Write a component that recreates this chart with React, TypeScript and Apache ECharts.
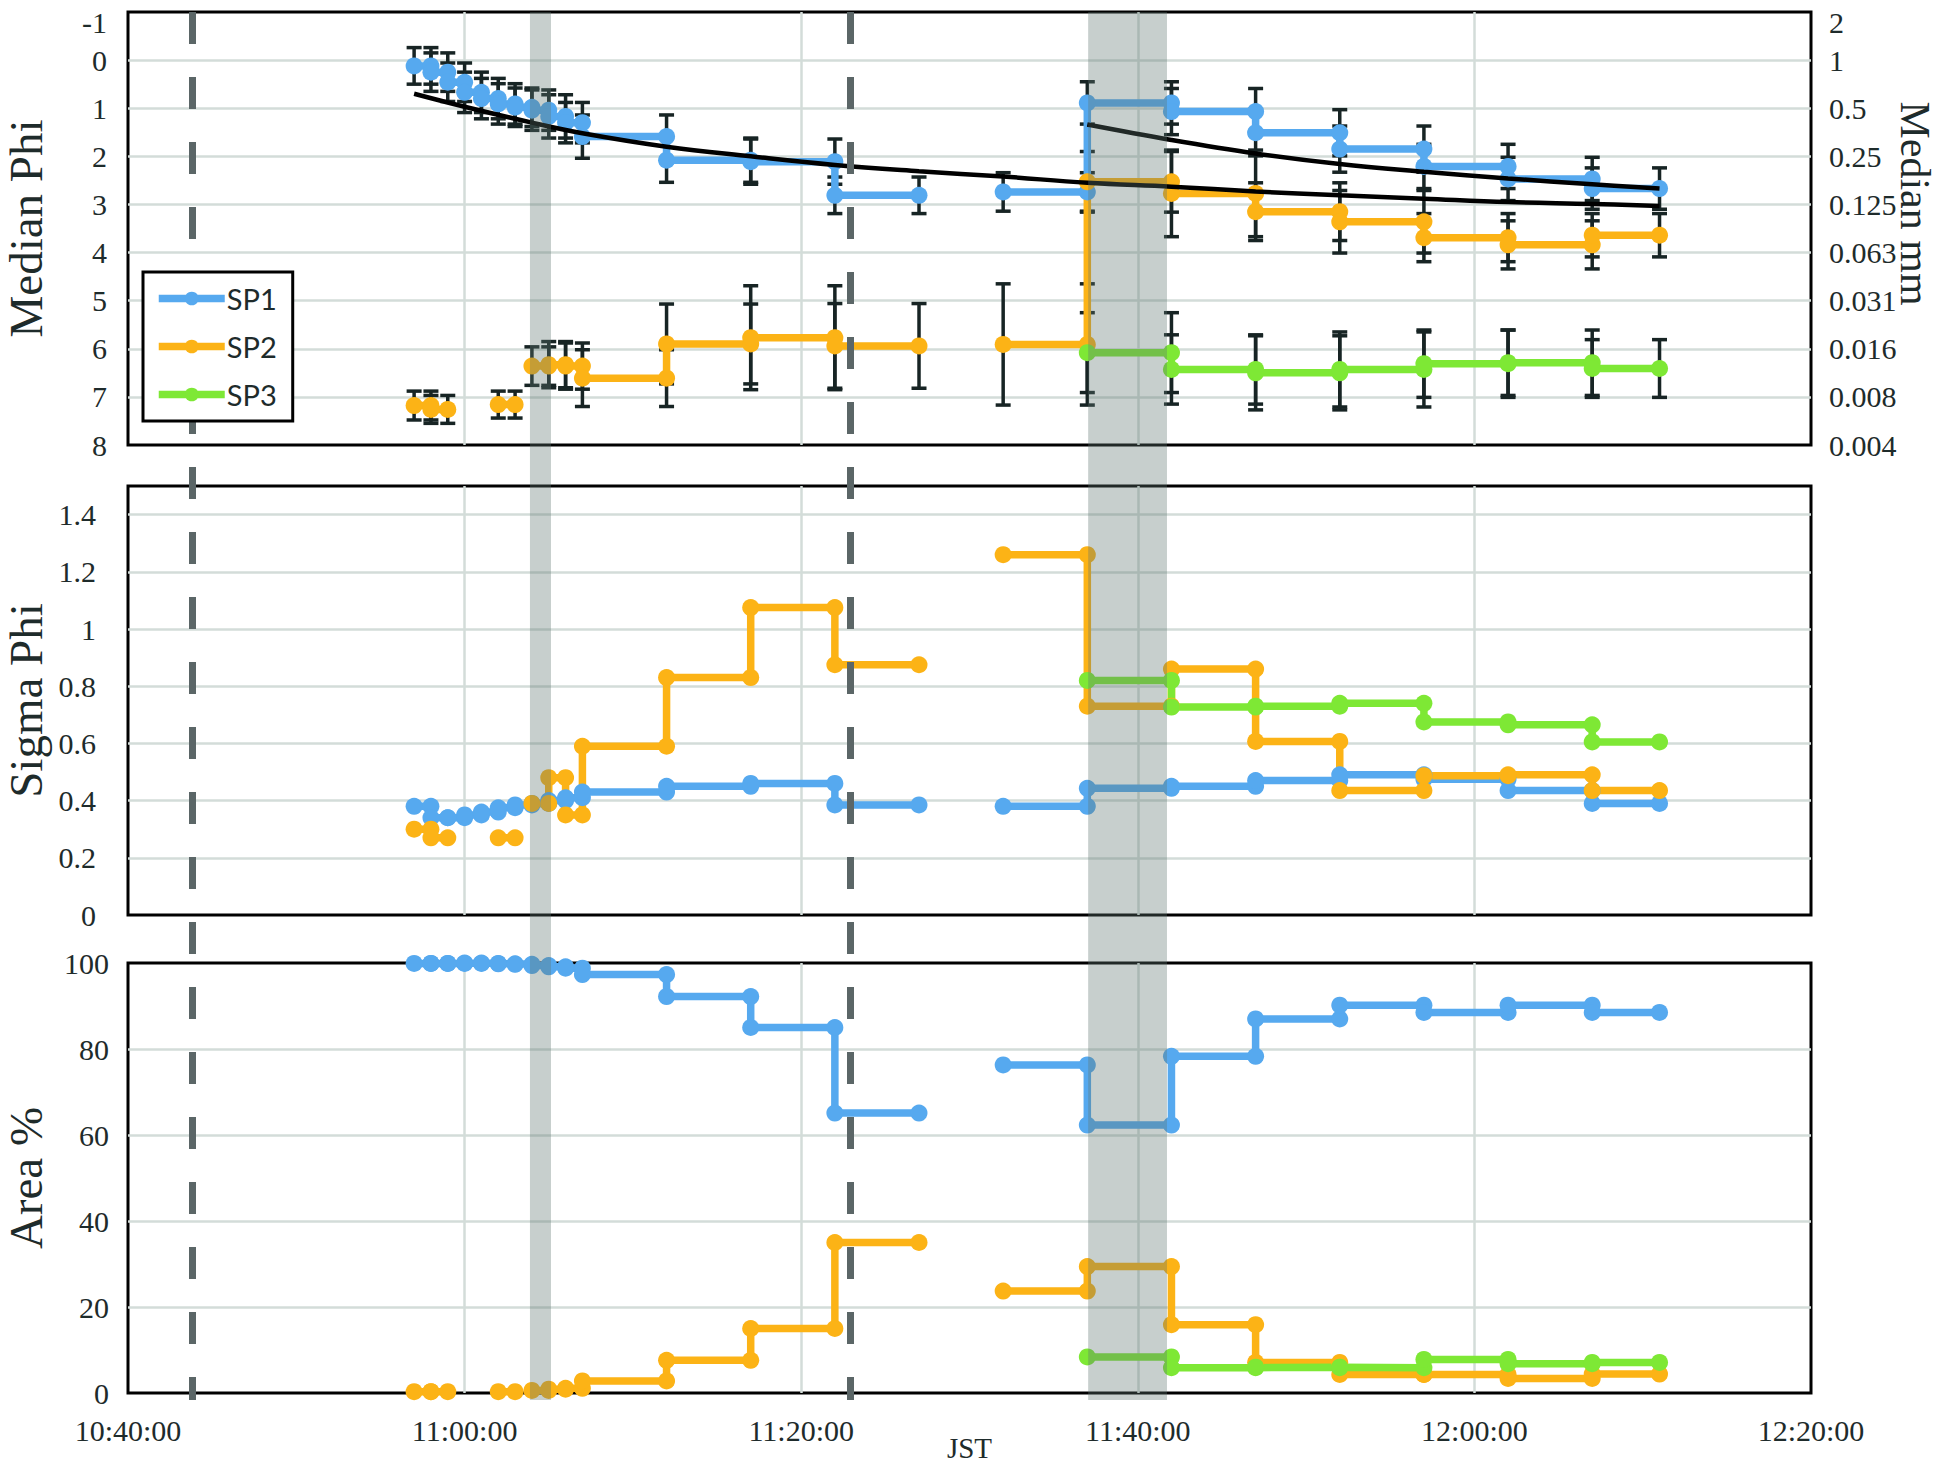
import React, { useEffect, useRef } from "react";
import * as echarts from "echarts";

// ---------- axes ----------
const X_MIN = "10:40:00";
const X_MAX = "12:20:00";
const X_STEP_SECONDS = 1200;
const PHI_TICKS = [-1, 0, 1, 2, 3, 4, 5, 6, 7, 8];
const MM_LABELS = ["2", "1", "0.5", "0.25", "0.125", "0.063", "0.031", "0.016", "0.008", "0.004"];

// ---------- SP1 samples (interval start/end, values) ----------
const SP1_START = ["10:57", "10:58", "10:59", "11:00", "11:01", "11:02", "11:03", "11:04", "11:05", "11:06", "11:07", "11:12", "11:17", "11:22", "11:32", "11:37", "11:42", "11:47", "11:52", "11:57", "12:02", "12:07"];
const SP1_END = ["10:58", "10:59", "11:00", "11:01", "11:02", "11:03", "11:04", "11:05", "11:06", "11:07", "11:12", "11:17", "11:22", "11:27", "11:37", "11:42", "11:47", "11:52", "11:57", "12:02", "12:07", "12:11"];
const SP1_PHI = [0.12, 0.25, 0.46, 0.67, 0.8, 0.91, 0.98, 1.04, 1.17, 1.3, 1.59, 2.08, 2.11, 2.81, 2.74, 0.89, 1.07, 1.51, 1.85, 2.21, 2.47, 2.67];
const SP1_PHI_ERR = [0.38, 0.4, 0.4, 0.42, 0.42, 0.42, 0.4, 0.42, 0.45, 0.42, 0.45, 0.46, 0.47, 0.38, 0.4, 0.44, 0.48, 0.48, 0.48, 0.46, 0.45, 0.43];
const SP1_SIGMA = [0.38, 0.34, 0.34, 0.35, 0.36, 0.375, 0.385, 0.39, 0.4, 0.41, 0.43, 0.45, 0.46, 0.385, 0.38, 0.443, 0.45, 0.47, 0.49, 0.475, 0.435, 0.39];
const SP1_AREA = [99.9, 99.9, 99.9, 100, 99.9, 99.8, 99.7, 99.4, 99.1, 98.8, 97.3, 92.2, 85.0, 65.1, 76.3, 62.3, 78.3, 87.0, 90.2, 88.5, 90.2, 88.5];

// ---------- SP2 samples ----------
const SP2_START = ["10:57", "10:58", "11:02", "11:04", "11:05", "11:06", "11:07", "11:12", "11:17", "11:22", "11:32", "11:37", "11:42", "11:47", "11:52", "11:57", "12:02", "12:07"];
const SP2_END = ["10:58", "10:59", "11:03", "11:05", "11:06", "11:07", "11:12", "11:17", "11:22", "11:27", "11:37", "11:42", "11:47", "11:52", "11:57", "12:02", "12:07", "12:11"];
const SP2_PHI = [7.18, 7.26, 7.16, 6.36, 6.33, 6.36, 6.61, 5.9, 5.77, 5.94, 5.91, 2.53, 2.77, 3.15, 3.36, 3.69, 3.84, 3.64];
const SP2_PHI_ERR = [0.3, 0.29, 0.28, 0.4, 0.48, 0.48, 0.59, 0.83, 1.08, 0.88, 1.26, 0.63, 0.9, 0.6, 0.65, 0.5, 0.5, 0.45];
const SP2_SIGMA = [0.3, 0.27, 0.27, 0.39, 0.48, 0.35, 0.59, 0.83, 1.075, 0.875, 1.26, 0.73, 0.86, 0.607, 0.435, 0.487, 0.49, 0.435];
const SP2_AREA = [0.3, 0.3, 0.3, 0.6, 0.9, 1.1, 2.8, 7.6, 15.0, 35.0, 23.7, 29.4, 15.9, 7.1, 4.3, 4.3, 3.4, 4.4];

// ---------- SP3 samples ----------
const SP3_START = ["11:37", "11:42", "11:47", "11:52", "11:57", "12:02", "12:07"];
const SP3_END = ["11:42", "11:47", "11:52", "11:57", "12:02", "12:07", "12:11"];
const SP3_PHI = [6.08, 6.43, 6.5, 6.43, 6.31, 6.29, 6.41];
const SP3_PHI_ERR = [0.83, 0.72, 0.77, 0.78, 0.7, 0.68, 0.6];
const SP3_SIGMA = [0.82, 0.727, 0.73, 0.74, 0.675, 0.665, 0.605];
const SP3_AREA = [8.4, 5.9, 6.0, 5.9, 7.8, 6.8, 7.1];

// ---------- trend curves (median phi) ----------
const TREND1_TIME = ["10:57", "11:00", "11:04", "11:07", "11:12", "11:17", "11:22", "11:27", "11:32", "11:37", "11:42", "11:47", "11:52", "11:57", "12:02", "12:07", "12:11"];
const TREND1_PHI = [0.7, 0.97, 1.3, 1.52, 1.8, 2.0, 2.18, 2.31, 2.42, 2.55, 2.63, 2.73, 2.81, 2.88, 2.95, 2.99, 3.03];
const TREND2_TIME = ["11:37", "11:42", "11:47", "11:52", "11:57", "12:02", "12:07", "12:11"];
const TREND2_PHI = [1.34, 1.66, 1.94, 2.16, 2.32, 2.46, 2.58, 2.67];

// ---------- events ----------
const EVENT_LINES = ["10:43:48", "11:22:54"];
const SHADED_START = ["11:03:53", "11:37:03"];
const SHADED_END = ["11:05:08", "11:41:44"];

const NAMES = ["SP1", "SP2", "SP3"];
const COLORS = ["#56a9ef", "#fcb316", "#7ee835"];

const toSec = (s: string) => {
  const p = s.split(":").map(Number);
  return p[0] * 3600 + p[1] * 60 + (p[2] || 0);
};
const pad = (n: number) => String(n).padStart(2, "0");
const fmtTime = (v: number) =>
  `${Math.floor(v / 3600)}:${pad(Math.floor((v % 3600) / 60))}:${pad(Math.round(v % 60))}`;

function stepData(start: string[], end: string[], vals: number[]) {
  const out: any[] = [];
  for (let i = 0; i < vals.length; i++) {
    if (i > 0 && start[i] !== end[i - 1]) out.push([toSec(start[i]), "-"]);
    out.push([toSec(start[i]), vals[i]]);
    out.push([toSec(end[i]), vals[i]]);
  }
  return out;
}
function errData(start: string[], end: string[], vals: number[], errs: number[]) {
  const out: number[][] = [];
  for (let i = 0; i < vals.length; i++) {
    out.push([toSec(start[i]), vals[i] - errs[i], vals[i] + errs[i]]);
    out.push([toSec(end[i]), vals[i] - errs[i], vals[i] + errs[i]]);
  }
  return out;
}

const SERIES_DEF = [
  { start: SP1_START, end: SP1_END, phi: SP1_PHI, err: SP1_PHI_ERR, sigma: SP1_SIGMA, area: SP1_AREA },
  { start: SP2_START, end: SP2_END, phi: SP2_PHI, err: SP2_PHI_ERR, sigma: SP2_SIGMA, area: SP2_AREA },
  { start: SP3_START, end: SP3_END, phi: SP3_PHI, err: SP3_PHI_ERR, sigma: SP3_SIGMA, area: SP3_AREA },
];

const TXT = "#1e2b2b";
const SERIF = "Liberation Serif";
const GRID_LINE = "#d3dcd9";

function buildOption() {
  const L = 128, R = 135;
  const grid = [
    { left: L, right: R, top: 12, height: 433 },
    { left: L, right: R, top: 486, height: 429 },
    { left: L, right: R, top: 963, height: 430 },
    { left: L, right: R, top: 12, height: 1388 },
  ].map((g, i) => ({
    ...g,
    show: i < 3,
    borderColor: "#000",
    borderWidth: 3,
    backgroundColor: "transparent",
    containLabel: false,
    outerBoundsMode: "none",
  }));

  const splitLine = {
    show: true,
    showMinLine: false,
    showMaxLine: false,
    lineStyle: { color: GRID_LINE, width: 2.5 },
  };

  const xAxis = [0, 1, 2, 3].map((i) => ({
    type: "value",
    gridIndex: i,
    show: i < 3,
    min: toSec(X_MIN),
    max: toSec(X_MAX),
    interval: X_STEP_SECONDS,
    axisLine: { show: false },
    axisTick: { show: false },
    splitLine: { ...splitLine, show: i < 3 },
    axisLabel: {
      show: i === 2,
      formatter: (v: number) => fmtTime(v),
      fontFamily: SERIF,
      fontSize: 30,
      color: TXT,
      margin: 22,
    },
    name: i === 2 ? "JST" : "",
    nameLocation: "middle",
    nameGap: 40,
    nameMoveOverlap: false,
    nameTextStyle: { fontFamily: SERIF, fontSize: 29, color: TXT, lineHeight: 29 },
  }));

  const labelStyle = { fontFamily: SERIF, fontSize: 30, color: TXT };
  const topLabelStyle = { ...labelStyle, lineHeight: 20, verticalAlignMinLabel: "top" };
  const nameStyle = { fontFamily: SERIF, fontSize: 47, color: TXT, lineHeight: 44 };
  const common = {
    type: "value",
    axisLine: { show: false },
    axisTick: { show: false },
    nameLocation: "middle",
    nameMoveOverlap: false,
    nameTextStyle: nameStyle,
  };
  const yAxis: any[] = [
    {
      ...common,
      gridIndex: 0,
      inverse: true,
      min: PHI_TICKS[0],
      max: PHI_TICKS[PHI_TICKS.length - 1],
      interval: 1,
      splitLine,
      axisLabel: { ...topLabelStyle, margin: 21 },
      name: "Median Phi",
      nameRotate: 90,
      nameGap: 80,
    },
    {
      ...common,
      gridIndex: 0,
      position: "right",
      inverse: true,
      min: PHI_TICKS[0],
      max: PHI_TICKS[PHI_TICKS.length - 1],
      interval: 1,
      splitLine: { show: false },
      axisLabel: {
        ...topLabelStyle,
        margin: 18,
        formatter: (v: number) => MM_LABELS[PHI_TICKS.indexOf(v)] ?? "",
      },
      name: "Median mm",
      nameRotate: -90,
      nameGap: 84,
      nameTextStyle: { ...nameStyle, fontSize: 42, lineHeight: 40, padding: [0, 50, 0, 0] },
    },
    {
      ...common,
      gridIndex: 1,
      min: 0,
      max: 1.5,
      interval: 0.2,
      splitLine,
      axisLabel: {
        ...labelStyle,
        margin: 32,
        showMaxLabel: false,
        formatter: (v: number) => (v > 1.45 ? "" : String(+v.toFixed(1))),
      },
      name: "Sigma Phi",
      nameRotate: 90,
      nameGap: 80,
    },
    {
      ...common,
      gridIndex: 2,
      min: 0,
      max: 100,
      interval: 20,
      splitLine,
      axisLabel: { ...labelStyle, margin: 19 },
      name: "Area %",
      nameRotate: 90,
      nameGap: 80,
    },
    { type: "value", gridIndex: 3, min: 0, max: 1, inverse: true, show: false, splitLine: { show: false } },
  ];

  const series: any[] = [];
  const panels = [
    { grid: 0, y: 0, key: "phi" },
    { grid: 1, y: 2, key: "sigma" },
    { grid: 2, y: 3, key: "area" },
  ];

  // error bars (top panel)
  SERIES_DEF.forEach((d) => {
    series.push({
      type: "custom",
      xAxisIndex: 0,
      yAxisIndex: 0,
      z: 2,
      silent: true,
      data: errData(d.start, d.end, d.phi, d.err),
      encode: { x: 0, y: [1, 2] },
      renderItem: (_p: any, api: any) => {
        const x = api.value(0);
        const lo = api.coord([x, api.value(1)]);
        const hi = api.coord([x, api.value(2)]);
        const hw = 7.5;
        const style = { stroke: "#172424", lineWidth: 3.5 };
        return {
          type: "group",
          children: [
            { type: "line", shape: { x1: lo[0], y1: lo[1], x2: hi[0], y2: hi[1] }, style },
            { type: "line", shape: { x1: lo[0] - hw, y1: lo[1], x2: lo[0] + hw, y2: lo[1] }, style },
            { type: "line", shape: { x1: hi[0] - hw, y1: hi[1], x2: hi[0] + hw, y2: hi[1] }, style },
          ],
        };
      },
    });
  });

  panels.forEach((p) => {
    SERIES_DEF.forEach((d, si) => {
      series.push({
        type: "line",
        name: NAMES[si],
        xAxisIndex: p.grid,
        yAxisIndex: p.y,
        z: 3,
        data: stepData(d.start, d.end, (d as any)[p.key]),
        symbol: "circle",
        symbolSize: 17,
        showSymbol: true,
        connectNulls: false,
        color: COLORS[si],
        lineStyle: { width: 7.5, color: COLORS[si] },
        itemStyle: { color: COLORS[si] },
      });
    });
  });

  // trend curves
  [
    [TREND1_TIME, TREND1_PHI],
    [TREND2_TIME, TREND2_PHI],
  ].forEach(([t, v]: any) => {
    series.push({
      type: "line",
      xAxisIndex: 0,
      yAxisIndex: 0,
      z: 4,
      smooth: 0.4,
      symbol: "none",
      silent: true,
      data: t.map((s: string, i: number) => [toSec(s), v[i]]),
      lineStyle: { color: "#000", width: 4.5 },
    });
  });

  // overlay: shaded periods + dashed event lines
  series.push({
    type: "line",
    xAxisIndex: 3,
    yAxisIndex: 4,
    z: 10,
    data: [],
    silent: true,
    markArea: {
      silent: true,
      z: 20,
      itemStyle: { color: "rgba(95,118,112,0.35)" },
      data: SHADED_START.map((s, i) => [{ xAxis: toSec(s) }, { xAxis: toSec(SHADED_END[i]) }]),
    },
    markLine: {
      silent: true,
      z: 21,
      symbol: ["none", "none"],
      label: { show: false },
      lineStyle: { color: "#5b6667", width: 7, type: [32, 33] },
      data: EVENT_LINES.map((t) => ({ xAxis: toSec(t) })),
    },
  });

  return {
    animation: false,
    backgroundColor: "#fff",
    textStyle: { fontFamily: SERIF },
    grid,
    xAxis,
    yAxis,
    legend: {
      data: NAMES,
      orient: "vertical",
      left: 143,
      top: 272,
      z: 30,
      padding: [12, 16, 12, 12],
      itemGap: 19,
      itemWidth: 66,
      itemHeight: 17,
      backgroundColor: "#fff",
      borderColor: "#000",
      borderWidth: 3,
      lineStyle: { width: 7.5 },
      textStyle: { fontFamily: "Lato", fontSize: 29, color: TXT, padding: [0, 0, 0, -3] },
    },
    series,
  };
}

export default function App() {
  const ref = useRef<HTMLDivElement>(null);
  useEffect(() => {
    const chart = echarts.init(ref.current!, null, { renderer: "svg" });
    chart.setOption(buildOption() as any);
    return () => chart.dispose();
  }, []);
  return (
    <div
      ref={ref}
      style={{ position: "absolute", left: 0, top: 0, width: 1946, height: 1463, background: "#fff" }}
    />
  );
}
